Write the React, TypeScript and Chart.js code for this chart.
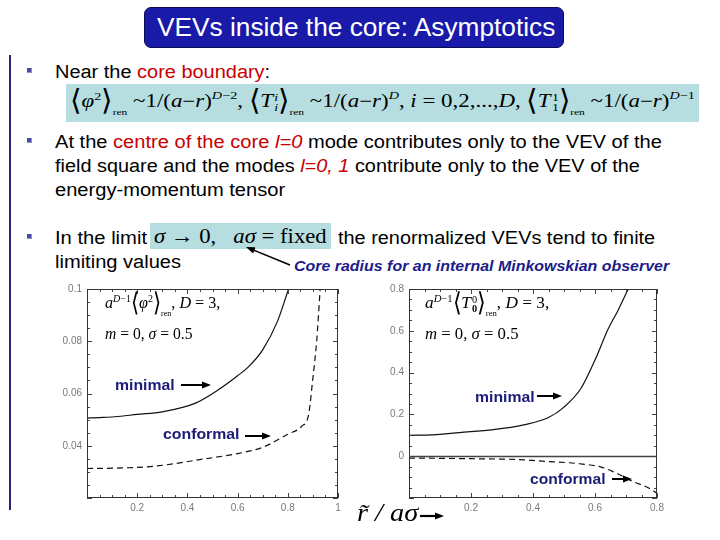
import React, { useEffect, useLayoutEffect, useRef } from "react";
import { Chart, registerables } from "chart.js";
Chart.register(...registerables);

// ---------- data ----------
// Left panel: a^{D-1}<phi^2>_ren, D=3, m=0, sigma=0.5
const phiMinX = [0, 0.05, 0.11, 0.2, 0.3, 0.43, 0.52, 0.6, 0.64, 0.7, 0.76, 0.803];
const phiMinY = [0.0506, 0.0508, 0.0511, 0.052, 0.053, 0.0562, 0.0612, 0.0668, 0.0699, 0.0767, 0.0879, 0.1];
const phiConfX = [0, 0.1, 0.27, 0.47, 0.6, 0.7, 0.8, 0.856, 0.883, 0.9, 0.915, 0.929];
const phiConfY = [0.0313, 0.0314, 0.0322, 0.035, 0.037, 0.0394, 0.0444, 0.0475, 0.052, 0.066, 0.08, 0.1];
// Right panel: a^{D-1}<T_0^0>_ren, D=3, m=0, sigma=0.5
const t00MinX = [0, 0.076, 0.163, 0.272, 0.37, 0.45, 0.5, 0.555, 0.6, 0.642, 0.675, 0.707];
const t00MinY = [0.1, 0.102, 0.113, 0.127, 0.15, 0.185, 0.235, 0.325, 0.46, 0.607, 0.7, 0.8];
const t00ConfX = [0, 0.1, 0.2, 0.3, 0.35, 0.443, 0.55, 0.62, 0.66, 0.724, 0.77, 0.8];
const t00ConfY = [-0.009, -0.01, -0.012, -0.014, -0.016, -0.025, -0.036, -0.052, -0.075, -0.122, -0.15, -0.177];

const leftXTicks = [0.2, 0.4, 0.6, 0.8, 1];
const leftYTicks = [0.04, 0.06, 0.08, 0.1];
const rightXTicks = [0.2, 0.4, 0.6, 0.8];
const rightYTicks = [0, 0.2, 0.4, 0.6, 0.8];

// ---------- helpers ----------
const pts = (xs: number[], ys: number[]) => xs.map((x, i) => ({ x, y: ys[i] }));

function Fit({ x, y, w, children, style }: any) {
  const ref = useRef<HTMLDivElement>(null);
  useLayoutEffect(() => {
    const el = ref.current;
    if (!el) return;
    el.style.transform = "translateY(-50%)";
    const nat = el.offsetWidth || 1;
    el.style.transform = `translateY(-50%) scaleX(${w / nat})`;
  });
  return (
    <div
      ref={ref}
      style={{
        position: "absolute",
        left: x,
        top: y,
        whiteSpace: "nowrap",
        transformOrigin: "0 0",
        lineHeight: 1.15,
        ...style,
      }}
    >
      {children}
    </div>
  );
}

const serif = '"Liberation Serif", "DejaVu Serif", "Times New Roman", serif';
const sans = '"Liberation Sans", Arial, "DejaVu Sans", sans-serif';

const brStyle: React.CSSProperties = {
  display: "inline-block",
  fontSize: "1.3em",
  fontFamily: '"DejaVu Sans", serif',
  fontWeight: 200,
  transform: "scaleY(1.25)",
  verticalAlign: "-0.05em",
  lineHeight: 1,
};
function Ang({ children }: any) {
  return (
    <span>
      <span style={brStyle}>⟨</span>
      {children}
      <span style={brStyle}>⟩</span>
      <span style={{ fontSize: "0.5em", verticalAlign: "-0.9em" }}>ren</span>
    </span>
  );
}
function SS({ sup, sub }: any) {
  return (
    <span style={{ display: "inline-flex", flexDirection: "column", fontSize: "0.6em", lineHeight: 0.9, verticalAlign: "0.5em", marginLeft: 1 }}>
      <span>{sup}</span>
      <span>{sub}</span>
    </span>
  );
}
const Sup = ({ children }: any) => <span style={{ fontSize: "0.62em", verticalAlign: "0.65em" }}>{children}</span>;

// ---------- chart ----------
function Panel({ left, top, width, height, padRight, axisW, xMin, xMax, yMin, yMax, xTicks, yTicks, xMinor, yMinor, xMajor, yMajor, data, zeroLine }: any) {
  const ref = useRef<HTMLCanvasElement>(null);
  useEffect(() => {
    const frame = {
      id: "frame",
      afterDatasetsDraw(chart: any) {
        const { ctx, chartArea: a, scales } = chart;
        const sx = scales.x, sy = scales.y;
        ctx.save();
        ctx.strokeStyle = "#444";
        ctx.lineWidth = 1;
        ctx.beginPath();
        const seg = (x1: number, y1: number, x2: number, y2: number) => {
          ctx.moveTo(x1, y1);
          ctx.lineTo(x2, y2);
        };
        const nx = Math.round((xMax - xMin) / xMinor);
        for (let i = 0; i <= nx; i++) {
          const v = xMin + i * xMinor;
          const major = Math.abs(v / xMajor - Math.round(v / xMajor)) < 1e-6;
          const L = major ? 5 : 3;
          const px = Math.round(sx.getPixelForValue(v)) + 0.5;
          seg(px, a.bottom, px, a.bottom - L);
          seg(px, a.top, px, a.top + L);
        }
        const ny = Math.round((yMax - yMin) / yMinor);
        for (let i = 0; i <= ny; i++) {
          const v = yMin + i * yMinor;
          const major = Math.abs(v / yMajor - Math.round(v / yMajor)) < 1e-6;
          const L = major ? 5 : 3;
          const py = Math.round(sy.getPixelForValue(v)) + 0.5;
          seg(a.left, py, a.left + L, py);
          seg(a.right, py, a.right - L, py);
        }
        ctx.stroke();
        ctx.strokeStyle = "#333";
        ctx.strokeRect(Math.round(a.left) + 0.5, Math.round(a.top) + 0.5, Math.round(a.right - a.left) - 1, Math.round(a.bottom - a.top) - 1);
        if (zeroLine) {
          const py = Math.round(sy.getPixelForValue(0)) + 0.5;
          ctx.strokeStyle = "#444";
          ctx.lineWidth = 1.3;
          ctx.beginPath();
          ctx.moveTo(a.left, py);
          ctx.lineTo(a.right, py);
          ctx.stroke();
        }
        ctx.restore();
      },
    };
    const tickFont = { size: 10, family: sans };
    const chart = new Chart(ref.current!, {
      type: "line",
      data: {
        datasets: data.map((d: any) => ({
          data: pts(d.x, d.y),
          borderColor: "#111",
          borderWidth: 1.2,
          borderDash: d.dash ? [6, 4] : [],
          pointRadius: 0,
          fill: false,
          cubicInterpolationMode: "monotone",
        })),
      },
      options: {
        responsive: false,
        animation: false,
        events: [],
        layout: { padding: { top: 8, right: padRight, left: 0, bottom: 0 } },
        plugins: { legend: { display: false }, tooltip: { enabled: false }, title: { display: false } },
        scales: {
          x: {
            type: "linear",
            min: xMin,
            max: xMax,
            grid: { display: false, drawTicks: false },
            border: { display: false },
            afterBuildTicks: (s: any) => {
              s.ticks = xTicks.map((v: number) => ({ value: v }));
            },
            ticks: { color: "#7a7a7a", font: tickFont, padding: 4, maxRotation: 0, autoSkip: false, callback: (v: any) => String(Number(Number(v).toFixed(3))) },
            afterFit: (s: any) => {
              s.height = 22;
            },
          },
          y: {
            type: "linear",
            min: yMin,
            max: yMax,
            grid: { display: false, drawTicks: false },
            border: { display: false },
            afterBuildTicks: (s: any) => {
              s.ticks = yTicks.map((v: number) => ({ value: v }));
            },
            ticks: { color: "#7a7a7a", font: tickFont, padding: 5, autoSkip: false, callback: (v: any) => String(Number(Number(v).toFixed(3))) },
            afterFit: (s: any) => {
              s.width = axisW;
            },
          },
        },
      } as any,
      plugins: [frame],
    });
    return () => chart.destroy();
  }, []);
  return <canvas ref={ref} width={width} height={height} style={{ position: "absolute", left, top, width, height }} />;
}

// ---------- page ----------
const red = "#c80000";
const navy = "#1c1c78";

function Bullet({ y }: any) {
  return <div style={{ position: "absolute", left: 27, top: y - 3, width: 5, height: 5, background: "#4a4aa0", boxShadow: "inset -1px -1px 0 #9090c8" }} />;
}

function Arrows() {
  const arr = (x1: number, y1: number, x2: number, y2: number, w = 2, h = 8, k = 0) => {
    const ang = Math.atan2(y2 - y1, x2 - x1);
    const bx = x2 - h * Math.cos(ang), by = y2 - h * Math.sin(ang);
    const px = -Math.sin(ang) * h * 0.38, py = Math.cos(ang) * h * 0.38;
    return (
      <g key={k}>
        <line x1={x1} y1={y1} x2={bx + Math.cos(ang)} y2={by + Math.sin(ang)} stroke="#000" strokeWidth={w} />
        <polygon points={`${x2},${y2} ${bx + px},${by + py} ${bx - px},${by - py}`} fill="#000" />
      </g>
    );
  };
  return (
    <svg width={720} height={540} style={{ position: "absolute", left: 0, top: 0, pointerEvents: "none" }}>
      {arr(181, 385, 211, 385, 2, 9, 1)}
      {arr(245, 436, 271, 436, 2, 9, 2)}
      {arr(537, 396, 562, 396, 2, 9, 3)}
      {arr(612, 479, 632, 479, 2, 9, 4)}
      {arr(420, 516, 444, 516, 2.2, 9, 5)}
      {arr(290, 265, 246, 247, 1.5, 9, 6)}
    </svg>
  );
}

export default function App() {
  const body: React.CSSProperties = { fontFamily: sans, fontSize: 18, color: "#000" };
  const mathS: React.CSSProperties = { fontFamily: serif, fontSize: 18, color: "#000" };
  const lbl: React.CSSProperties = { fontFamily: sans, fontSize: 15, fontWeight: "bold", color: navy };
  return (
    <div style={{ position: "absolute", left: 0, top: 0, width: 720, height: 540, background: "#fff", overflow: "hidden" }}>
      {/* title */}
      <div style={{ position: "absolute", left: 144, top: 7, width: 420, height: 41, boxSizing: "border-box", background: "#1a1aa8", border: "1px solid #0a0a50", borderRadius: 7 }} />
      <Fit x={157} y={27} w={398} style={{ fontFamily: sans, fontSize: 25, color: "#fff" }}>
        VEVs inside the core: Asymptotics
      </Fit>
      {/* left rule */}
      <div style={{ position: "absolute", left: 9, top: 55, width: 2, height: 455, background: "#23237a" }} />

      <Bullet y={71} />
      <Fit x={55} y={72} w={215} style={body}>
        Near the <span style={{ color: red }}>core boundary</span>:
      </Fit>
      <div style={{ position: "absolute", left: 66, top: 84, width: 633, height: 38, background: "#b6dde0" }} />
      <Fit x={70} y={103} w={625} style={mathS}>
        <Ang>
          <i>φ</i>
          <Sup>2</Sup>
        </Ang>{" "}
        ~1/(<i>a</i>−<i>r</i>)<Sup><i>D</i>−2</Sup>,{" "}
        <Ang>
          <i>T</i>
          <SS sup={<i>i</i>} sub={<i>i</i>} />
        </Ang>{" "}
        ~1/(<i>a</i>−<i>r</i>)<Sup><i>D</i></Sup>, <i>i</i> = 0,2,...,<i>D</i>,{" "}
        <Ang>
          <i>T</i>
          <SS sup="1" sub="1" />
        </Ang>{" "}
        ~1/(<i>a</i>−<i>r</i>)<Sup><i>D</i>−1</Sup>
      </Fit>

      <Bullet y={141} />
      <Fit x={55} y={142} w={607} style={body}>
        At the <span style={{ color: red }}>centre of the core <i>l=0</i></span> mode contributes only to the VEV of the
      </Fit>
      <Fit x={55} y={166} w={585} style={body}>
        field square and the modes <span style={{ color: red }}><i>l=0, 1</i></span> contribute only to the VEV of the
      </Fit>
      <Fit x={55} y={190} w={230} style={body}>
        energy-momentum tensor
      </Fit>

      <Bullet y={237} />
      <Fit x={55} y={238} w={92} style={body}>
        In the limit
      </Fit>
      <div style={{ position: "absolute", left: 150, top: 223, width: 181, height: 26, background: "#b6dde0" }} />
      <Fit x={154} y={236} w={173} style={{ ...mathS, fontSize: 21 }}>
        <i>σ</i> → 0,&nbsp;&nbsp; <i>aσ</i> = fixed
      </Fit>
      <Fit x={338} y={238} w={317} style={body}>
        the renormalized VEVs tend to finite
      </Fit>
      <Fit x={55} y={262} w={126} style={body}>
        limiting values
      </Fit>
      <Fit x={294} y={266} w={375} style={{ fontFamily: sans, fontSize: 14, fontWeight: "bold", fontStyle: "italic", color: "#1c1c8c" }}>
        Core radius for an internal Minkowskian observer
      </Fit>

      {/* charts */}
      <Panel
        left={47}
        top={278}
        width={303}
        height={242}
        padRight={12}
        axisW={40}
        xMin={0}
        xMax={1}
        yMin={0.02}
        yMax={0.1}
        xTicks={leftXTicks}
        yTicks={leftYTicks}
        xMinor={0.05}
        yMinor={0.005}
        xMajor={0.2}
        yMajor={0.02}
        data={[
          { x: phiMinX, y: phiMinY, dash: false },
          { x: phiConfX, y: phiConfY, dash: true },
        ]}
      />
      <Panel
        left={370}
        top={278}
        width={300}
        height={242}
        padRight={13}
        axisW={39}
        xMin={0}
        xMax={0.8}
        yMin={-0.2}
        yMax={0.8}
        xTicks={rightXTicks}
        yTicks={rightYTicks}
        xMinor={0.05}
        yMinor={0.05}
        xMajor={0.2}
        yMajor={0.2}
        zeroLine
        data={[
          { x: t00MinX, y: t00MinY, dash: false },
          { x: t00ConfX, y: t00ConfY, dash: true },
        ]}
      />

      {/* in-plot annotations */}
      <Fit x={105} y={305} w={115} style={{ ...mathS, fontSize: 16 }}>
        <i>a</i>
        <Sup>
          <i>D</i>−1
        </Sup>
        <Ang>
          <i>φ</i>
          <Sup>2</Sup>
        </Ang>
        , <i>D</i> = 3,
      </Fit>
      <Fit x={105} y={334} w={88} style={{ ...mathS, fontSize: 16 }}>
        <i>m</i> = 0, <i>σ</i> = 0.5
      </Fit>
      <Fit x={425} y={305} w={124} style={{ ...mathS, fontSize: 16 }}>
        <i>a</i>
        <Sup>
          <i>D</i>−1
        </Sup>
        <Ang>
          <i>T</i>
          <SS sup="0" sub={<b>0</b>} />
        </Ang>
        , <i>D</i> = 3,
      </Fit>
      <Fit x={425} y={334} w={94} style={{ ...mathS, fontSize: 16 }}>
        <i>m</i> = 0, <i>σ</i> = 0.5
      </Fit>

      <Fit x={115} y={385} w={60} style={lbl}>
        minimal
      </Fit>
      <Fit x={163} y={434} w={77} style={lbl}>
        conformal
      </Fit>
      <Fit x={475} y={397} w={60} style={lbl}>
        minimal
      </Fit>
      <Fit x={530} y={479} w={76} style={lbl}>
        conformal
      </Fit>

      <Fit x={357} y={513} w={61} style={{ fontFamily: serif, fontSize: 26, fontStyle: "italic" }}>
        r̃ / aσ
      </Fit>

      <Arrows />
    </div>
  );
}
